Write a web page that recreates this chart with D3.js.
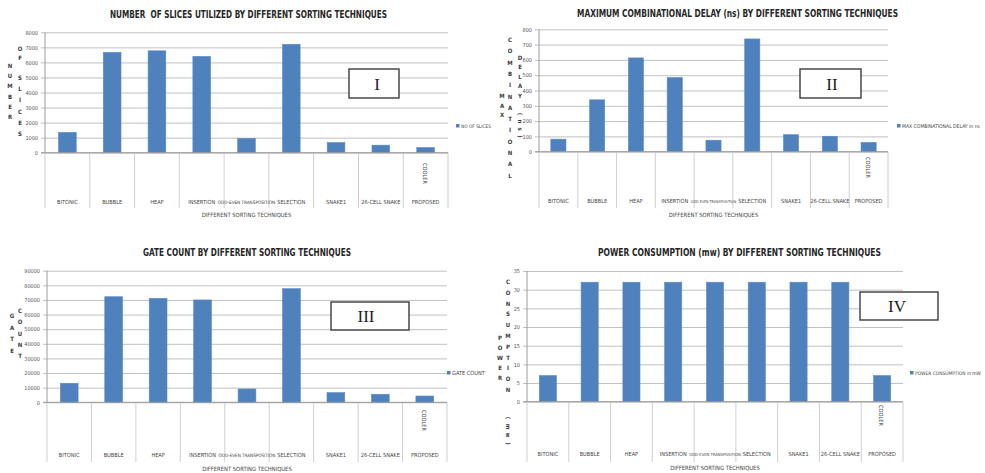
<!DOCTYPE html>
<html>
<head>
<meta charset="utf-8">
<script src="https://cdn.jsdelivr.net/npm/d3@7"></script>
<style>
  html, body { margin: 0; padding: 0; background: #fff; }
  svg { display: block; }
  text { font-family: "Liberation Sans Narrow", "DejaVu Sans Condensed", "Arial Narrow", sans-serif; }
  text.numeral { font-family: "Liberation Serif", "DejaVu Serif", serif; }
</style>
</head>
<body>
<svg id="chart" width="985" height="473"></svg>
<script>
// Sorting techniques compared in every panel
const categories = ["BITONIC", "BUBBLE", "HEAP", "INSERTION", "ODD-EVEN TRANSPOSITION",
                    "SELECTION", "SNAKE1", "26-CELL SNAKE", "PROPOSED"];

// Series values
const slices = [1350, 6670, 6770, 6400, 950, 7200, 675, 500, 340];
const delayNs = [82, 339, 613, 485, 75, 737, 111, 101, 61];
const gateCount = [13000, 72200, 71100, 70000, 9100, 77700, 6600, 5500, 4300];
const powerMw = [7, 32, 32, 32, 32, 32, 32, 32, 7];

// Axis tick values
const sliceTicks = [0, 1000, 2000, 3000, 4000, 5000, 6000, 7000, 8000];
const delayTicks = [0, 100, 200, 300, 400, 500, 600, 700, 800];
const gateTicks = [0, 10000, 20000, 30000, 40000, 50000, 60000, 70000, 80000, 90000];
const powerTicks = [0, 5, 10, 15, 20, 25, 30, 35];

// Titles, legend entries and panel numerals
const titles = ["NUMBER  OF SLICES UTILIZED BY DIFFERENT SORTING TECHNIQUES",
                "MAXIMUM COMBINATIONAL DELAY (ns) BY DIFFERENT SORTING TECHNIQUES",
                "GATE COUNT BY DIFFERENT SORTING TECHNIQUES",
                "POWER CONSUMPTION (mw) BY DIFFERENT SORTING TECHNIQUES"];
const legendNames = ["NO OF SLICES", "MAX COMBINATIONAL DELAY in ns", "GATE COUNT", "POWER CONSUMPTION in mW"];
const numerals = ["I", "II", "III", "IV"];
const xTitle = "DIFFERENT SORTING TECHNIQUES";
const cellNote = "COOLER";

const BAR = "#4f81bd";
const LABEL_SIZE = 5.6;
const svg = d3.select("#chart");

function stackedColumn(g, col) {
  // vertical "stacked" letters used for the y-axis titles
  Array.from(col.text).forEach((c, i) => {
    if (c === " ") return;
    const cy = col.y0 + i * col.gap;
    const t = g.append("text")
      .attr("x", col.x).attr("y", cy)
      .attr("text-anchor", "middle")
      .attr("font-size", 6).attr("font-weight", "bold")
      .attr("fill", "#3a3a3a")
      .text(c);
    if (col.rotate) t.attr("transform", `rotate(90,${col.x},${cy - 2})`);
  });
}

// shrink the font of a text until it is no wider than maxW
function shrinkTo(node, maxW) {
  const w = node.getComputedTextLength();
  if (w > maxW) {
    const fs = parseFloat(d3.select(node).attr("font-size"));
    d3.select(node).attr("font-size", (fs * maxW / w).toFixed(2));
  }
}

// only labels wider than their cell are shrunk, to clear their neighbours
function fitLabels(sel, step) {
  const nodes = sel.nodes();
  const w = nodes.map(n => n.getComputedTextLength());
  nodes.forEach((n, i) => {
    if (w[i] <= step) return;
    const left = i > 0 ? step - w[i - 1] / 2 - 2 : step;
    const right = i < nodes.length - 1 ? step - w[i + 1] / 2 - 2 : step;
    shrinkTo(n, 2 * Math.min(left, right));
  });
}

function panel(cfg) {
  const g = svg.append("g");
  const x = d3.scaleBand().domain(categories).range([cfg.x0, cfg.x1]);
  const y = d3.scaleLinear().domain([0, cfg.max]).range([cfg.y0, cfg.yTop]);

  // title
  g.append("text")
    .attr("x", cfg.titleX).attr("y", cfg.titleY)
    .attr("font-size", 10.5).attr("font-weight", "bold").attr("fill", "#262626")
    .attr("textLength", cfg.titleW).attr("lengthAdjust", "spacingAndGlyphs")
    .style("white-space", "pre")
    .text(cfg.title);

  // value axis with gridlines
  const yAxis = d3.axisLeft(y).tickValues(cfg.ticks)
    .tickSize(-(cfg.x1 - cfg.x0 + 4)).tickSizeOuter(0).tickPadding(3)
    .tickFormat(d3.format("d"));
  const ya = g.append("g").attr("transform", `translate(${cfg.x0 - 4},0)`).call(yAxis);
  ya.select(".domain").remove();
  ya.selectAll(".tick line").attr("stroke", "#c0c0c0").attr("stroke-width", 1);
  ya.selectAll(".tick text").attr("font-size", 5.5).attr("fill", "#555")
    .attr("font-family", null);

  // y axis line
  g.append("line").attr("x1", cfg.x0).attr("x2", cfg.x0)
    .attr("y1", cfg.yTop).attr("y2", cfg.y0).attr("stroke", "#9a9a9a");

  // category cells below the baseline
  const bounds = categories.map(c => x(c)).concat([cfg.x1]);
  g.selectAll(".sep").data(bounds).join("line")
    .attr("x1", d => d).attr("x2", d => d)
    .attr("y1", cfg.y0).attr("y2", cfg.cellBottom)
    .attr("stroke", "#cfcfcf");

  // bars
  const bw = x.bandwidth() * cfg.barFrac;
  g.selectAll(".bar").data(cfg.values).join("rect")
    .attr("x", (d, i) => x(categories[i]) + (x.bandwidth() - bw) / 2)
    .attr("width", bw)
    .attr("y", d => y(d))
    .attr("height", d => y(0) - y(d))
    .attr("fill", BAR)
    .attr("stroke", "#5a8ac6").attr("stroke-width", 0.6);

  // baseline
  g.append("line").attr("x1", cfg.x0 - 4).attr("x2", cfg.x1)
    .attr("y1", y(0)).attr("y2", y(0)).attr("stroke", "#9a9a9a");

  // category labels
  const cats = g.selectAll(".cat").data(categories).join("text")
    .attr("x", d => x(d) + x.bandwidth() / 2)
    .attr("y", cfg.catY)
    .attr("text-anchor", "middle")
    .attr("font-size", LABEL_SIZE).attr("fill", "#444")
    .text(d => d);
  fitLabels(cats, x.step());

  // rotated note inside the last cell
  const nx = x(categories[categories.length - 1]) + x.bandwidth() / 2 - 3;
  g.append("text")
    .attr("x", nx).attr("y", cfg.noteY)
    .attr("font-size", LABEL_SIZE).attr("fill", "#444")
    .attr("transform", `rotate(90,${nx},${cfg.noteY})`)
    .text(cellNote);

  // x-axis title
  g.append("text")
    .attr("x", (cfg.x0 + cfg.x1) / 2).attr("y", cfg.xTitleY)
    .attr("text-anchor", "middle")
    .attr("font-size", 5.8).attr("fill", "#444")
    .text(xTitle);

  // legend
  g.append("rect").attr("x", cfg.legX).attr("y", cfg.legY - 2).attr("width", 3.5).attr("height", 3.5).attr("fill", BAR);
  const lt = g.append("text").attr("x", cfg.legX + 5).attr("y", cfg.legY + 1.8)
    .attr("font-size", LABEL_SIZE).attr("fill", "#444").text(cfg.legend);
  shrinkTo(lt.node(), cfg.legW);

  // stacked y-axis title
  cfg.yTitle.forEach(col => stackedColumn(g, col));

  // numeral box
  const b = cfg.box;
  g.append("rect").attr("x", b.x).attr("y", b.y).attr("width", b.w).attr("height", b.h)
    .attr("fill", "#fff").attr("stroke", "#3c3c3c").attr("stroke-width", 1.4);
  g.append("text").attr("class", "numeral")
    .attr("x", b.tx).attr("y", b.y + b.h / 2 + 6)
    .attr("text-anchor", "middle")
    .attr("font-size", 17).attr("fill", "#1e1e1e")
    .text(cfg.numeral);
}

panel({
  title: titles[0], titleX: 110, titleY: 18, titleW: 277,
  x0: 45, x1: 448, y0: 152.7, yTop: 32.3, max: 8000, ticks: sliceTicks, values: slices,
  cellBottom: 208, catY: 204, noteY: 163, xTitleY: 217, barFrac: 0.395,
  legX: 456, legY: 126, legend: legendNames[0], legW: 30,
  yTitle: [
    { x: 10, y0: 68, gap: 10.2, text: "NUMBER" },
    { x: 20, y0: 51, gap: 8.5, text: "OF" },
    { x: 20, y0: 80, gap: 11.2, text: "SLICES" }
  ],
  box: { x: 349, y: 69, w: 50, h: 29, tx: 377 }, numeral: numerals[0]
});

panel({
  title: titles[1], titleX: 577, titleY: 17, titleW: 321,
  x0: 539, x1: 888, y0: 151.7, yTop: 29.3, max: 800, ticks: delayTicks, values: delayNs,
  cellBottom: 208, catY: 203, noteY: 157, xTitleY: 217, barFrac: 0.39,
  legX: 897, legY: 126, legend: legendNames[1], legW: 78,
  yTitle: [
    { x: 502, y0: 98, gap: 9.5, text: "MAX" },
    { x: 510, y0: 42, gap: 11.3, text: "COMBINATIONAL" },
    { x: 520, y0: 60, gap: 9.4, text: "DELAY" },
    { x: 520, y0: 116, gap: 7.5, text: "(ns)", rotate: true }
  ],
  box: { x: 800, y: 69, w: 61, h: 29, tx: 832 }, numeral: numerals[1]
});

panel({
  title: titles[2], titleX: 143, titleY: 256, titleW: 208,
  x0: 47, x1: 447, y0: 402.3, yTop: 270.7, max: 90000, ticks: gateTicks, values: gateCount,
  cellBottom: 462, catY: 457, noteY: 410, xTitleY: 471, barFrac: 0.4,
  legX: 447, legY: 373, legend: legendNames[2], legW: 36,
  yTitle: [
    { x: 12, y0: 318, gap: 11.5, text: "GATE" },
    { x: 20, y0: 313, gap: 11.3, text: "COUNT" }
  ],
  box: { x: 331, y: 302, w: 78, h: 28, tx: 366 }, numeral: numerals[2]
});

panel({
  title: titles[3], titleX: 598, titleY: 256, titleW: 283,
  x0: 527, x1: 903, y0: 401.7, yTop: 271, max: 35, ticks: powerTicks, values: powerMw,
  cellBottom: 462, catY: 456, noteY: 405, xTitleY: 470, barFrac: 0.41,
  legX: 910, legY: 373, legend: legendNames[3], legW: 66,
  yTitle: [
    { x: 500, y0: 340, gap: 10, text: "POWER" },
    { x: 508, y0: 284, gap: 10.8, text: "CONSUMPTION" },
    { x: 508, y0: 420, gap: 8.5, text: "(mw)", rotate: true }
  ],
  box: { x: 860, y: 292, w: 78, h: 28, tx: 897 }, numeral: numerals[3]
});
</script>
</body>
</html>
